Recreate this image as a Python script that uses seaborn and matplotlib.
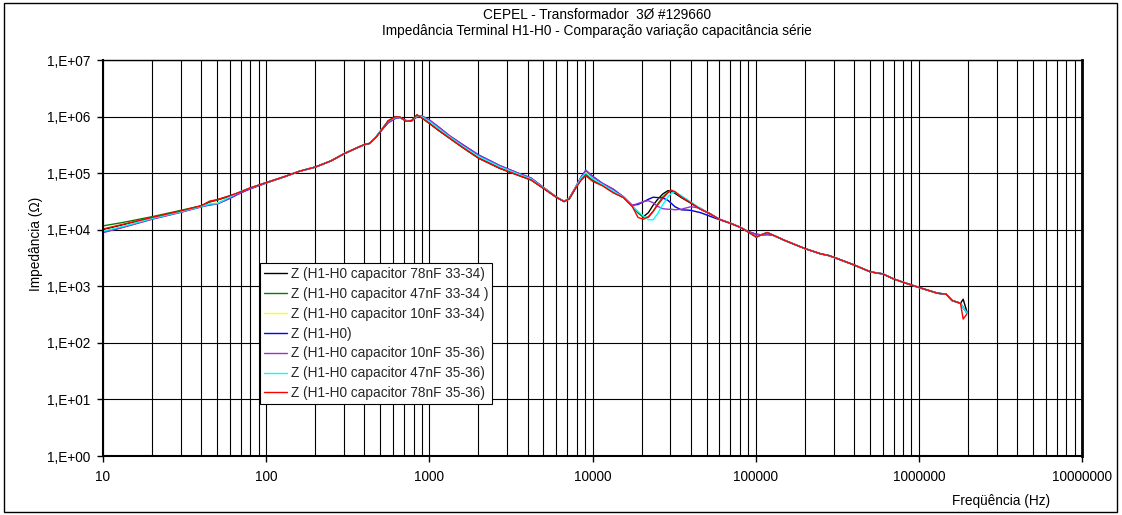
import numpy as np
import pandas as pd
import matplotlib
matplotlib.use("Agg")
import matplotlib.pyplot as plt
import seaborn as sns
from matplotlib.ticker import FixedLocator, FuncFormatter, NullFormatter
from matplotlib.patches import Rectangle

# ---------------- data (impedance in kOhm) ----------------
freq_hz = [10, 13, 20, 30, 40, 45, 50, 60, 70, 80,
           100, 130, 160, 200, 250, 300, 350, 400, 430, 470,
           500, 560, 620, 660, 720, 780, 840, 900, 1000, 1150,
           1340, 1600, 2000, 2700, 3500, 4200, 5000, 6000, 6700, 7200,
           7900, 8500, 9100, 10000, 11500, 13400, 15500, 17500, 19000, 20500,
           22000, 23500, 25000, 27000, 29000, 30500, 32000, 35000, 40000, 46000,
           52000, 60000, 70000, 80000, 90000, 101000, 110000, 118000, 128000, 150000,
           200000, 250000, 280000, 300000, 400000, 500000, 550000, 600000, 700000, 800000,
           1000000, 1300000, 1470000, 1600000, 1800000, 1870000, 1970000]

z_78nF_33_34 = [10.0, 12.0, 16.2, 21.2, 26.3, 31.0, 33.5, 39.5, 46.5, 54.5,
                68, 87, 108, 128, 165, 220, 270, 320, 335, 430,
                540, 840, 1000, 970, 830, 850, 1060, 950, 760, 560,
                410, 285, 185, 122, 92, 76, 54, 37.5, 31.5, 35,
                55, 78, 95, 75, 61, 46, 37, 26, 20, 17,
                20, 27, 34, 43, 49, 47.5, 44, 37, 29.5, 23,
                19.5, 15.2, 13, 11.1, 9.1, 7.4, 8.3, 8.9, 8.0, 6.5,
                4.65, 3.75, 3.5, 3.27, 2.39, 1.82, 1.72, 1.66, 1.35, 1.18,
                0.955, 0.755, 0.724, 0.56, 0.50, 0.59, 0.356]

z_47nF_33_34 = [11.7, 13.3, 17.0, 22.0, 26.5, 31.0, 33.5, 39.5, 46.5, 54.5,
                68, 87, 108, 128, 165, 220, 270, 320, 335, 430,
                540, 840, 990, 975, 830, 850, 1065, 950, 760, 560,
                410, 285, 185, 122, 92, 76, 54, 37.5, 31.5, 35,
                55, 76, 92, 74, 61, 46, 37, 26, 20, 16.5,
                16.5, 21, 28, 38, 46, 49, 46, 38, 30, 23,
                19.5, 15.2, 13, 11.1, 9.1, 7.4, 8.3, 8.9, 8.0, 6.5,
                4.65, 3.75, 3.5, 3.27, 2.39, 1.82, 1.72, 1.66, 1.35, 1.18,
                0.955, 0.755, 0.724, 0.56, 0.50, 0.42, 0.343]

z_10nF_33_34 = [9.5, 11.4, 15.9, 20.8, 25.7, 28.0, 29.5, 37.0, 46.0, 54.0,
                67, 87, 108, 128, 165, 220, 270, 320, 335, 430,
                540, 790, 940, 960, 850, 845, 1000, 1020, 860, 630,
                445, 315, 205, 134, 99, 81, 56, 38, 31.5, 36,
                57, 84, 105, 86, 65, 51, 38, 27, 28, 31,
                34.5, 37.5, 37, 36.5, 33, 29, 25.5, 22.5, 22, 20,
                17.5, 15, 13, 11.1, 9.3, 8.2, 8.1, 8.2, 8.0, 6.5,
                4.65, 3.75, 3.5, 3.27, 2.39, 1.82, 1.72, 1.66, 1.35, 1.18,
                0.955, 0.755, 0.724, 0.56, 0.50, 0.42, 0.34]

z_base = [9.0, 11.0, 15.5, 20.5, 25.5, 27.5, 28.5, 36.0, 45.0, 53.0,
          67, 87, 108, 128, 165, 220, 270, 320, 335, 430,
          540, 780, 930, 960, 850, 840, 990, 1020, 870, 640,
          450, 320, 210, 136, 100, 82, 56, 38, 31.5, 36,
          57, 85, 112, 88, 66, 52, 38, 27, 28, 31,
          34.5, 37.5, 37, 36.5, 33, 29, 25.5, 22.5, 22, 20,
          17.5, 15, 13, 11.1, 9.3, 8.3, 8.1, 8.2, 8.0, 6.5,
          4.65, 3.75, 3.5, 3.27, 2.39, 1.82, 1.72, 1.66, 1.35, 1.18,
          0.955, 0.755, 0.724, 0.56, 0.50, 0.42, 0.34]

z_10nF_35_36 = [8.9, 10.8, 15.3, 20.3, 25.3, 27.5, 28.5, 36.0, 45.0, 53.0,
                67, 87, 108, 128, 165, 220, 270, 320, 335, 430,
                540, 780, 930, 960, 850, 840, 990, 1020, 870, 640,
                450, 320, 210, 136, 100, 82, 56, 38, 31.5, 36,
                57, 85, 112, 88, 66, 52, 38, 27, 29, 31.5,
                32.5, 30, 26, 23.5, 23, 23, 22.5, 23, 25.5, 24,
                19, 15.5, 13, 11.1, 9.3, 8.3, 8.1, 8.2, 8.0, 6.5,
                4.65, 3.75, 3.5, 3.27, 2.39, 1.82, 1.72, 1.66, 1.35, 1.18,
                0.955, 0.755, 0.724, 0.56, 0.50, 0.42, 0.34]

z_47nF_35_36 = [9.4, 11.3, 15.8, 20.8, 25.8, 28.5, 29.0, 38.0, 48.0, 55.0,
                68, 87, 108, 128, 165, 220, 270, 320, 335, 440,
                560, 830, 970, 960, 840, 860, 1030, 990, 820, 600,
                430, 300, 198, 130, 96, 79, 55, 38, 31.5, 35.5,
                56, 82, 100, 80, 63, 48, 37.5, 26, 21, 17.5,
                15, 15, 19, 28, 38, 44, 47, 40, 31, 23.5,
                19.5, 15.2, 13, 11.1, 9.1, 7.4, 8.3, 8.9, 8.0, 6.5,
                4.65, 3.75, 3.5, 3.27, 2.39, 1.82, 1.72, 1.66, 1.35, 1.18,
                0.955, 0.755, 0.724, 0.56, 0.50, 0.42, 0.34]

z_78nF_35_36 = [10.3, 12.3, 16.5, 21.5, 26.5, 32.0, 34.0, 40.0, 47.0, 55.0,
                68, 87, 108, 128, 165, 220, 270, 320, 335, 430,
                540, 840, 990, 980, 830, 850, 1070, 950, 760, 560,
                410, 285, 185, 122, 92, 76, 54, 37.5, 31.5, 35,
                55, 75, 90, 72, 60, 45, 37, 26, 16.5, 15.3,
                17, 21, 27, 36, 45, 50, 47, 38, 30, 23,
                19.5, 15.2, 13, 11.1, 9.1, 7.4, 8.3, 8.9, 8.0, 6.5,
                4.65, 3.75, 3.5, 3.27, 2.39, 1.82, 1.72, 1.66, 1.35, 1.18,
                0.955, 0.755, 0.724, 0.56, 0.50, 0.263, 0.325]

series_labels = ["Z (H1-H0 capacitor 78nF 33-34)",
                 "Z (H1-H0 capacitor 47nF 33-34 )",
                 "Z (H1-H0 capacitor 10nF 33-34)",
                 "Z (H1-H0)",
                 "Z (H1-H0 capacitor 10nF 35-36)",
                 "Z (H1-H0 capacitor 47nF 35-36)",
                 "Z (H1-H0 capacitor 78nF 35-36)"]
series_values = [z_78nF_33_34, z_47nF_33_34, z_10nF_33_34, z_base,
                 z_10nF_35_36, z_47nF_35_36, z_78nF_35_36]
series_colors = ["#000000", "#008000", "#FFFF00", "#0000FF",
                 "#9933CC", "#00FFFF", "#FF0000"]

x_ticks = [10, 100, 1000, 10000, 100000, 1000000, 10000000]
y_ticks = [1, 10, 100, 1000, 10000, 100000, 1000000, 10000000]

title_lines = "CEPEL - Transformador  3Ø #129660\nImpedância Terminal H1-H0 - Comparação variação capacitância série"
x_label = "Freqüência (Hz)"
y_label = "Impedância (Ω)"

# ---------------- build table ----------------
frames = []
for lab, vals in zip(series_labels, series_values):
    assert len(vals) == len(freq_hz)
    frames.append(pd.DataFrame({"freq": freq_hz,
                                "z": np.asarray(vals, float) * 1000.0,
                                "serie": lab}))
df = pd.concat(frames, ignore_index=True)

# ---------------- figure ----------------
sns.set_theme(style="white")
plt.rcParams['font.family'] = ['Liberation Sans', 'DejaVu Sans']
FS = 9.8

W, H = 1122, 515
fig = plt.figure(figsize=(W / 100, H / 100), dpi=100)
ax_l, ax_r, ax_t, ax_b = 103, 1082, 60, 456
ax = fig.add_axes([ax_l / W, 1 - ax_b / H, (ax_r - ax_l) / W, (ax_b - ax_t) / H])

sns.lineplot(data=df, x="freq", y="z", hue="serie", hue_order=series_labels,
             palette=dict(zip(series_labels, series_colors)),
             estimator=None, sort=False, linewidth=1.0, ax=ax, legend=True)

ax.set_xscale("log")
ax.set_yscale("log")
ax.set_xlim(10, 1e7)
ax.set_ylim(1, 1e7)

ax.xaxis.set_major_locator(FixedLocator(x_ticks))
minors = [m * 10 ** e for e in range(1, 7) for m in range(2, 10)]
ax.xaxis.set_minor_locator(FixedLocator(minors))
ax.xaxis.set_major_formatter(FuncFormatter(lambda v, p: f"{int(round(v))}"))
ax.xaxis.set_minor_formatter(NullFormatter())
ax.yaxis.set_major_locator(FixedLocator(y_ticks))
ax.yaxis.set_minor_locator(FixedLocator([]))
ax.yaxis.set_major_formatter(FuncFormatter(lambda v, p: f"1,E{int(round(np.log10(v))):+03d}"))

ax.grid(which="both", axis="x", color="black", linewidth=0.8)
ax.grid(which="major", axis="y", color="black", linewidth=0.8)
ax.set_axisbelow(True)

ax.tick_params(axis="both", which="major", direction="out", length=4, width=1,
               color="black", labelsize=FS, labelcolor="black", bottom=True, left=True)
ax.tick_params(axis="x", which="major", pad=6)
ax.tick_params(axis="y", which="major", pad=5)
ax.tick_params(axis="x", which="minor", length=0)

for side, sp in ax.spines.items():
    sp.set_color("black")
    sp.set_linewidth(1.0)
ax.spines["left"].set_linewidth(1.5)
ax.spines["bottom"].set_linewidth(1.5)
ax.spines["right"].set_linewidth(2.0)

ax.set_xlabel(x_label, fontsize=FS, color="black")
ax.set_ylabel(y_label, fontsize=FS, color="black")
ax.xaxis.label.set_va("center")
ax.yaxis.label.set_va("center")
ax.xaxis.set_label_coords((1001 - ax_l) / (ax_r - ax_l), (ax_b - 501) / (ax_b - ax_t))
ax.yaxis.set_label_coords((36 - ax_l) / (ax_r - ax_l), (ax_b - 244) / (ax_b - ax_t))

# legend
old = ax.get_legend()
handles = list(old.legend_handles)
labels = [t.get_text() for t in old.get_texts()]
old.remove()
for h in handles:
    h.set_linewidth(1.0)
leg = ax.legend(handles, labels, loc="upper left",
                bbox_to_anchor=((260 - ax_l) / (ax_r - ax_l), (ax_b - 263) / (ax_b - ax_t)),
                borderaxespad=0, frameon=True, fancybox=False, shadow=False,
                edgecolor="black", framealpha=1, facecolor="white",
                fontsize=FS, handlelength=1.7, handletextpad=0.25,
                labelspacing=0.43, borderpad=0.3)
leg.get_frame().set_linewidth(0.8)

# title
fig.text(597 / W, 1 - 23 / H, title_lines, ha="center", va="center",
         fontsize=FS, color="black", linespacing=1.15)

# chart-area border
fig.patches.append(Rectangle((4 / W, 1 - 512 / H), (1117 - 4) / W, (512 - 3) / H,
                             transform=fig.transFigure, fill=False,
                             edgecolor="black", linewidth=1.0))

fig.savefig("out.png", dpi=100, facecolor="white")
